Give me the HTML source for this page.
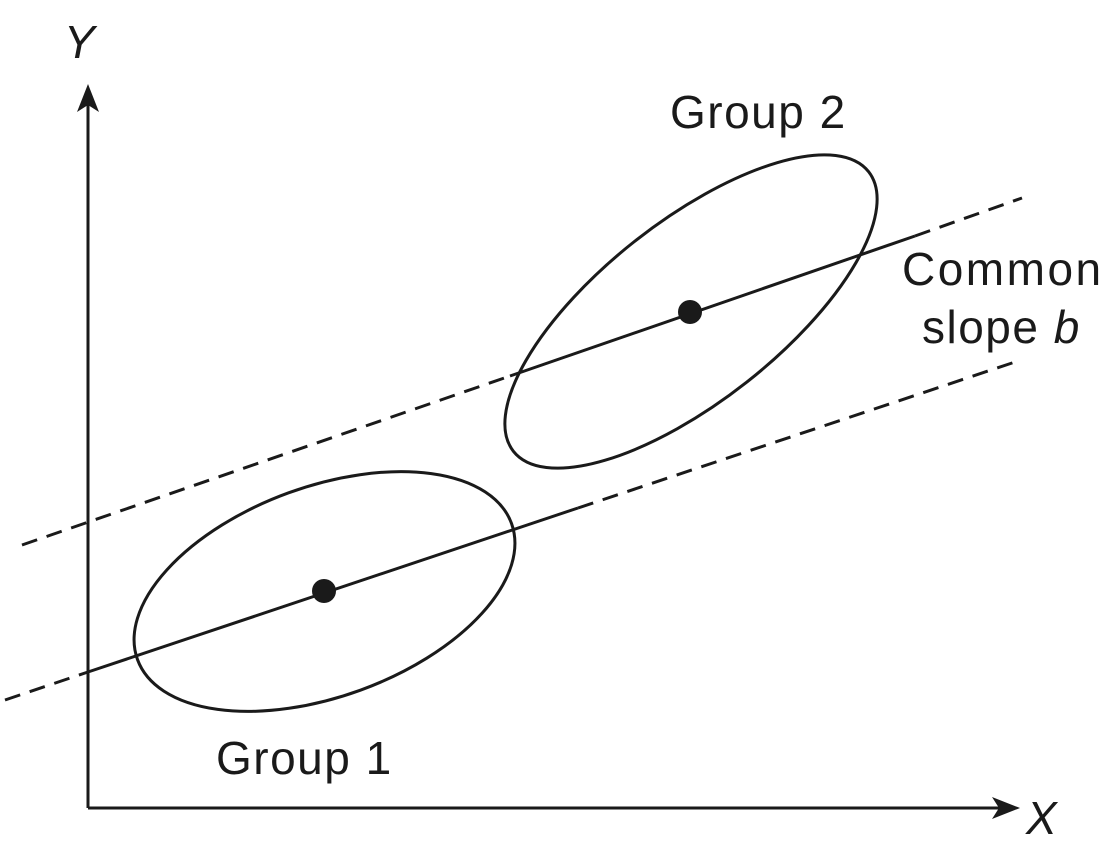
<!DOCTYPE html>
<html><head><style>html,body{margin:0;padding:0;background:#fff}svg{display:block}</style></head>
<body>
<svg width="1114" height="844" viewBox="0 0 1114 844" xmlns="http://www.w3.org/2000/svg">
<g stroke="#1a1a1a" stroke-width="3" fill="none">
<line x1="88" y1="808" x2="88" y2="100"/>
<line x1="88" y1="808" x2="1000" y2="808"/>
<line x1="22" y1="545" x2="510" y2="376" stroke-dasharray="16,10"/>
<line x1="510" y1="376" x2="915" y2="236"/>
<line x1="915" y1="236" x2="1022" y2="198" stroke-dasharray="16,10"/>
<line x1="5" y1="700" x2="88" y2="672" stroke-dasharray="16,10"/>
<line x1="88" y1="672" x2="578" y2="508"/>
<line x1="578" y1="508" x2="1015" y2="362" stroke-dasharray="16,10"/>
<ellipse cx="324.5" cy="591.5" rx="199" ry="105" transform="rotate(-20 324.5 591.5)"/>
<ellipse cx="691" cy="311.5" rx="226" ry="90" transform="rotate(-38.2 691 311.5)"/>
</g>
<polygon points="88,84 77,112 88,105 99,112" fill="#1a1a1a"/>
<polygon points="1020,808 992,797 999,808 992,819" fill="#1a1a1a"/>
<circle cx="324" cy="591" r="12" fill="#1a1a1a"/>
<circle cx="690" cy="312" r="12" fill="#1a1a1a"/>
<g font-family="Liberation Sans, sans-serif" font-size="46" fill="#1a1a1a" letter-spacing="1.5">
<text x="64" y="58" font-style="italic">Y</text>
<text x="1026" y="834" font-style="italic">X</text>
<text x="670" y="128">Group 2</text>
<text x="216" y="774">Group 1</text>
<text x="902" y="285" letter-spacing="2.5">Common</text>
<text x="922" y="343">slope <tspan font-style="italic">b</tspan></text>
</g>
</svg>
</body></html>
